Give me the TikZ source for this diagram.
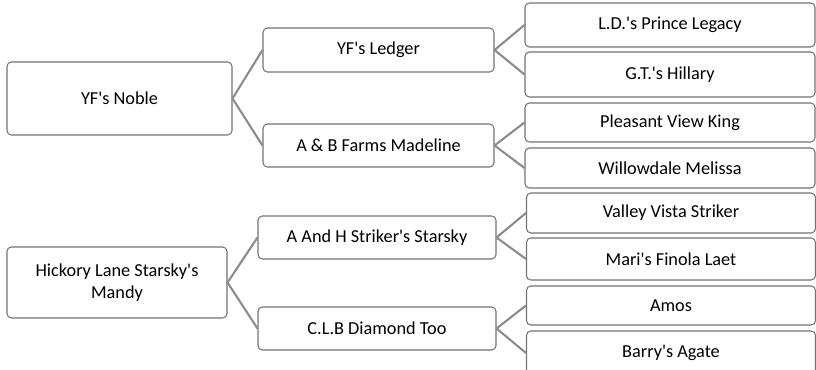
\documentclass[tikz,border=0pt]{standalone}
\usepackage{fontspec}
\setmainfont{Carlito}[Ligatures=TeXOff]
\tikzset{
  horse/.style={draw=black!55, line width=0.6pt, rounded corners=2.5pt, fill=white,
    inner sep=0pt, align=center, font=\fontsize{10.4}{12.5}\selectfont},
  link/.style={draw=black!45, line width=1.2pt}
}
\begin{document}
\begin{tikzpicture}
    \useasboundingbox (0,0) rectangle (16.32,-7.4);
    \coordinate (Noble) at (2.39,-1.97);
    \coordinate (Ledger) at (7.57,-1.0);
    \coordinate (Madeline) at (7.57,-2.91);
    \coordinate (Mandy) at (2.34,-5.65);
    \coordinate (Starsky) at (7.54,-4.75);
    \coordinate (Diamond) at (7.54,-6.57);
    \node[horse, minimum width=4.5cm, minimum height=1.46cm] (noble) at (Noble) {YF's Noble};
    \node[horse, minimum width=4.62cm, minimum height=0.88cm] (ledger) at (Ledger) {YF's Ledger};
    \node[horse, minimum width=4.62cm, minimum height=0.86cm] (madeline) at (Madeline) {A \& B Farms Madeline};
    \node[horse, minimum width=5.8cm, minimum height=0.88cm] (legacy) at (13.4,-0.5) {L.D.'s Prince Legacy};
    \node[horse, minimum width=5.8cm, minimum height=0.9cm] (hillary) at (13.4,-1.49) {G.T.'s Hillary};
    \node[horse, minimum width=5.8cm, minimum height=0.78cm] (king) at (13.4,-2.45) {Pleasant View King};
    \node[horse, minimum width=5.8cm, minimum height=0.8cm] (melissa) at (13.4,-3.36) {Willowdale Melissa};
    \node[horse, minimum width=4.4cm, minimum height=1.42cm] (mandy) at (Mandy) {Hickory Lane Starsky's\\Mandy};
    \node[horse, minimum width=4.76cm, minimum height=0.86cm] (starsky) at (Starsky) {A And H Striker's Starsky};
    \node[horse, minimum width=4.76cm, minimum height=0.86cm] (diamond) at (Diamond) {C.L.B Diamond Too};
    \node[horse, minimum width=5.78cm, minimum height=0.8cm] (striker) at (13.42,-4.26) {Valley Vista Striker};
    \node[horse, minimum width=5.78cm, minimum height=0.84cm] (laet) at (13.42,-5.18) {Mari's Finola Laet};
    \node[horse, minimum width=5.78cm, minimum height=0.78cm] (amos) at (13.42,-6.11) {Amos};
    \node[horse, minimum width=5.78cm, minimum height=0.88cm] (agate) at (13.42,-7.06) {Barry's Agate};
    % sire and dam lines
    \draw[link] (ledger.west) -- (noble.east) -- (madeline.west);
    \draw[link] (legacy.west) -- (ledger.east) -- (hillary.west);
    \draw[link] (king.west) -- (madeline.east) -- (melissa.west);
    \draw[link] (starsky.west) -- (mandy.east) -- (diamond.west);
    \draw[link] (striker.west) -- (starsky.east) -- (laet.west);
    \draw[link] (amos.west) -- (diamond.east) -- (agate.west);
  \end{tikzpicture}
\end{document}
